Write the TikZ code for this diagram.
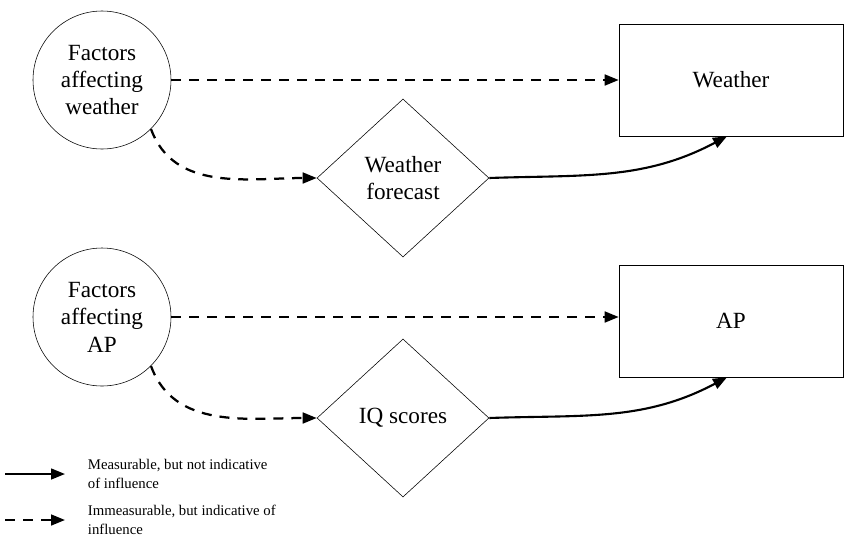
\documentclass[tikz,border=0pt]{standalone}
\usepackage{fontspec}
\setmainfont{Liberation Serif}
\usetikzlibrary{shapes.geometric,arrows.meta,positioning}

\begin{document}
\begin{tikzpicture}[
  factor/.style={circle,draw,thin,minimum size=3.45cm,inner sep=0pt,align=center,font=\fontsize{16.5}{19.5}\selectfont},
  outcome/.style={rectangle,draw,thin,minimum width=5.6cm,minimum height=2.8cm,font=\fontsize{16.5}{19.5}\selectfont},
  measure/.style={diamond,draw,thin,minimum width=4.3cm,minimum height=3.95cm,inner sep=0pt,align=center,font=\fontsize{16.5}{19.5}\selectfont},
  hidden/.style={dash pattern=on 0.25cm off 0.2cm,line width=1.6pt,-{Triangle[length=0.35cm,width=0.27cm]}},
  shown/.style={line width=1.5pt,-{Triangle[length=0.35cm,width=0.27cm]}},
  legend/.style={align=left,font=\fontsize{10.5}{14}\selectfont}]

  \useasboundingbox (0,0) rectangle (21.125,-13.5);

  \node (FactorsW) [factor] at (2.55,-2.0) {Factors\\affecting\\weather};
  \node (Weather) [outcome, node distance=15.725cm, right of=FactorsW] {Weather};
  \node (Forecast) [measure, node distance=7.525cm, right of=FactorsW, yshift=-2.45cm] {Weather\\forecast};

  \node (FactorsAP) [factor, node distance=5.925cm, below of=FactorsW] {Factors\\affecting\\AP};
  \node (AP) [outcome, node distance=15.725cm, right of=FactorsAP, yshift=-0.1cm] {AP};
  \node (IQ) [measure, node distance=7.525cm, right of=FactorsAP, yshift=-2.525cm] {IQ scores};

  \draw [hidden] (FactorsW) -- (Weather);
  \draw [hidden] (FactorsW.-45) to[out=-70,in=180] (Forecast.west);
  \draw [shown] (Forecast.east) to[out=2,in=208] ([xshift=-0.1cm]Weather.south);

  \draw [hidden] (FactorsAP.east) -- (FactorsAP.east -| AP.west);
  \draw [hidden] (FactorsAP.-45) to[out=-70,in=180] (IQ.west);
  \draw [shown] (IQ.east) to[out=2,in=208] ([xshift=-0.1cm]AP.south);

  % key
  \coordinate (KeyA) at (0.125,-11.85);
  \coordinate (KeyAEnd) at (1.625,-11.85);
  \coordinate (KeyB) at (0.125,-13.0);
  \coordinate (KeyBEnd) at (1.625,-13.0);

  \draw [shown] (KeyA) -- (KeyAEnd);
  \draw [hidden] (KeyB) -- (KeyBEnd);

  \node (KeyAText) [legend, right=0.45cm of KeyAEnd] {Measurable, but not indicative\\of influence};
  \node (KeyBText) [legend, right=0.45cm of KeyBEnd] {Immeasurable, but indicative of\\influence};

\end{tikzpicture}
\end{document}
